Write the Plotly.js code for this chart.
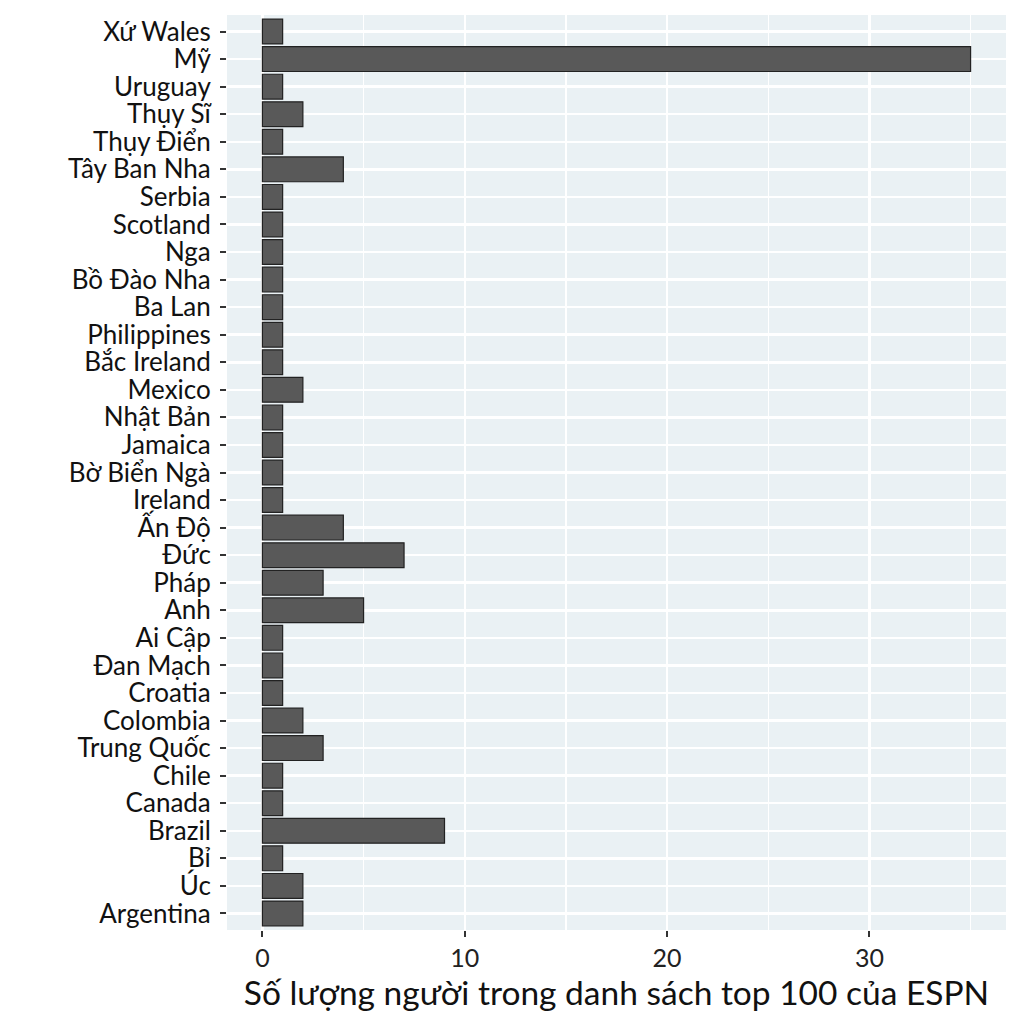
<!DOCTYPE html>
<html>
<head>
<meta charset="utf-8">
<script src="https://cdn.plot.ly/plotly-3.0.1.min.js"></script>
<style>html,body{margin:0;padding:0;background:#fff;}#chart{width:1024px;height:1024px;}</style>
</head>
<body>
<div id="chart"></div>
<script>
// Categories bottom to top
const countries = ["Argentina","Úc","Bỉ","Brazil","Canada","Chile","Trung Quốc","Colombia","Croatia","Đan Mạch","Ai Cập","Anh","Pháp","Đức","Ấn Độ","Ireland","Bờ Biển Ngà","Jamaica","Nhật Bản","Mexico","Bắc Ireland","Philippines","Ba Lan","Bồ Đào Nha","Nga","Scotland","Serbia","Tây Ban Nha","Thụy Điển","Thụy Sĩ","Uruguay","Mỹ","Xứ Wales"];
const counts = [2,2,1,9,1,1,3,2,1,1,1,5,3,7,4,1,1,1,1,2,1,1,1,1,1,1,1,4,1,2,1,35,1];
const xTickValues = [0,10,20,30];
const xTitle = "Số lượng người trong danh sách top 100 của ESPN";

const trace = {
  type: 'bar',
  orientation: 'h',
  x: counts,
  y: countries,
  width: 0.9,
  marker: {color: '#595959', line: {color: '#222222', width: 1.2}},
  hoverinfo: 'x+y'
};

const layout = {
  width: 1024, height: 1024,
  margin: {l: 227, r: 18, t: 15, b: 94},
  paper_bgcolor: '#ffffff',
  plot_bgcolor: '#EAF1F4',
  font: {family: 'Lato, sans-serif', color: '#111'},
  showlegend: false,
  bargap: 0.1,
  xaxis: {
    range: [-1.75, 36.75],
    tickmode: 'array',
    tickvals: xTickValues,
    ticktext: xTickValues.map(String),
    tickfont: {size: 25, color: '#222'},
    ticks: 'outside', ticklen: 6, tickwidth: 2, tickcolor: '#333',
    showgrid: true, gridcolor: '#ffffff', gridwidth: 2.5,
    minor: {tickvals: [5,15,25,35], showgrid: true, gridcolor: '#ffffff', gridwidth: 1.2, ticks: ''},
    zeroline: false, showline: false,
    title: {text: xTitle, font: {size: 33.5, color: '#111'}, standoff: 6}
  },
  yaxis: {
    type: 'category',
    categoryorder: 'array', categoryarray: countries,
    tickmode: 'array', tickvals: countries, ticktext: countries,
    range: [-0.6, 32.6],
    tickfont: {size: 26, color: '#111'},
    ticklabelstandoff: 4,
    ticks: 'outside', ticklen: 6, tickwidth: 2, tickcolor: '#333',
    showgrid: true, gridcolor: '#ffffff', gridwidth: 2.5,
    zeroline: false, showline: false,
    automargin: false
  }
};

Plotly.newPlot('chart', [trace], layout, {staticPlot: true, displayModeBar: false});
</script>
</body>
</html>
